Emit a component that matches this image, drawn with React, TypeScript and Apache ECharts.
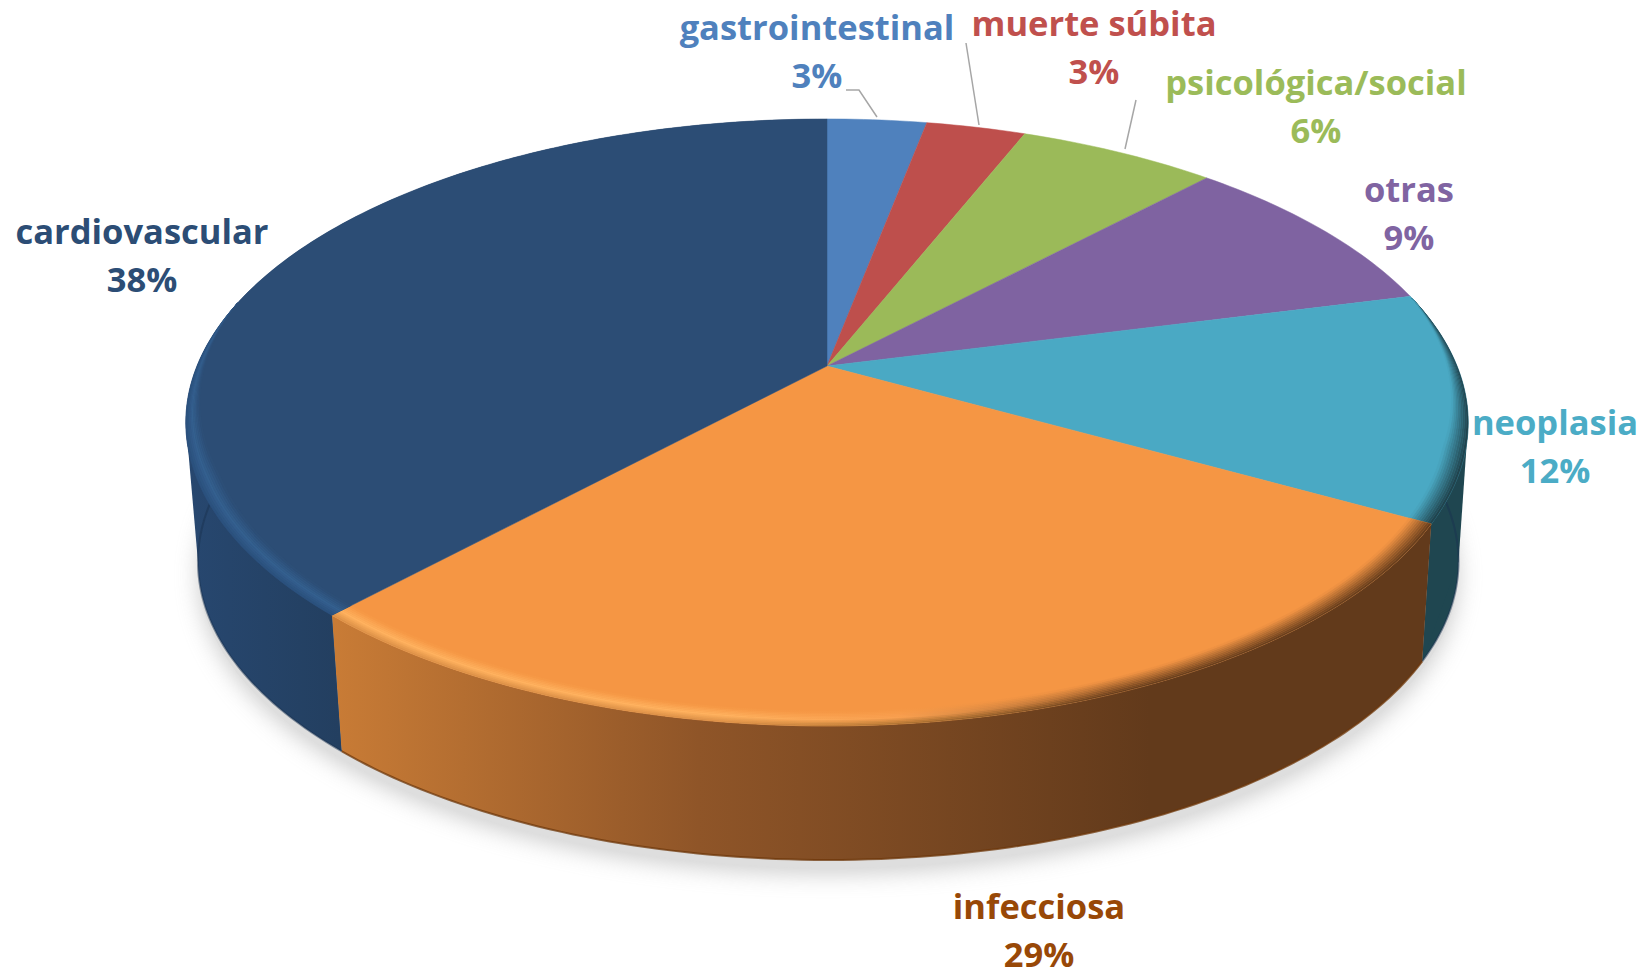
import React, { useEffect, useRef } from "react";
import * as echarts from "echarts";

// ---- data, clockwise from twelve o'clock
const categories = ["gastrointestinal", "muerte súbita", "psicológica/social", "otras", "neoplasia", "infecciosa", "cardiovascular"];
const shares = [3, 3, 6, 9, 12.15, 28.72, 38.13]; // unrounded shares

// ---- styles
const topColors = ["#4F81BD", "#BE4F4C", "#9BBA59", "#7F63A1", "#4AA9C4", "#F59644", "#2C4D75"];
const labelColors = ["#4F81BD", "#C0504D", "#9BBB59", "#8064A2", "#4BACC6", "#984807", "#2C4D75"];
const labelAnchors = [[817, 26], [1094, 22], [1316, 81], [1409, 188], [1555, 421], [1039, 905], [142, 230]];
const leaderLines = [
  [[846, 90], [859, 90], [877, 117]],
  [[966, 43], [979, 125]],
  [[1136, 100], [1125, 149]],
];

// ---- perspective of the disc
const CX = 827, CY = 366, A = 630, F = 293, Q = 0.186;
const VX = 900, VY = 8608, S = 0.983;
const RAD = Math.PI / 180;
// angles where the disc's outline is at its widest (cos = -Q)
const RIGHT_EXTREME = Math.acos(-Q) / RAD;
const LEFT_EXTREME = 360 - RIGHT_EXTREME;

function project(deg: number, r: number, low: boolean): number[] {
  const x = r * Math.sin(deg * RAD);
  const y = -r * Math.cos(deg * RAD);
  const w = 1 - Q * y;
  const px = CX + (A * x) / w;
  const py = CY + (F * y) / w;
  return low ? [VX + S * (px - VX), VY + S * (py - VY)] : [px, py];
}

function arc(from: number, to: number, r: number, low: boolean): number[][] {
  const pts: number[][] = [];
  const n = Math.max(2, Math.ceil(Math.abs(to - from)));
  for (let i = 0; i <= n; i++) pts.push(project(from + ((to - from) * i) / n, r, low));
  return pts;
}

function hex(c: string): number[] {
  return [1, 3, 5].map((i) => parseInt(c.slice(i, i + 2), 16));
}
function mix(a: string, b: string, t: number): string {
  const p = hex(a), q = hex(b);
  const v = p.map((u, i) => Math.round(u + (q[i] - u) * t));
  return "rgb(" + v.join(",") + ")";
}
function rimColor(side: string, hl: string, base: string, t: number): string {
  // t: 0 at the outer edge, 1 at the inner edge of the rounded rim
  return t < 0.45 ? mix(side, hl, t / 0.45) : mix(hl, base, (t - 0.45) / 0.55);
}

const total = shares.reduce((a, b) => a + b, 0);
function sliceRange(i: number): number[] {
  let before = 0;
  for (let k = 0; k < i; k++) before += shares[k];
  return [(before / total) * 360, ((before + shares[i]) / total) * 360];
}

function wallFill(i: number): any {
  if (i === 5)
    return new echarts.graphic.LinearGradient(330, 0, 1150, 0, [
      { offset: 0, color: "#C97C36" },
      { offset: 0.45, color: "#8F5528" },
      { offset: 1, color: "#623A1B" },
    ], true);
  if (i === 6)
    return new echarts.graphic.LinearGradient(190, 0, 340, 0, [
      { offset: 0, color: "#27476F" },
      { offset: 1, color: "#233F60" },
    ], true);
  return "#1F4650";
}

const RIM_W = 0.034, RIM_STEPS = 10, RIM_FROM = 76, RIM_TO = 283;

function rimFill(i: number, t: number): any {
  if (i === 4) return mix("#1F3F48", topColors[4], t);
  if (i === 6) return rimColor("#2A4F7C", "#34608F", topColors[6], t);
  const hl = rimColor("#D98E45", "#FFB25F", topColors[5], t);
  const mid = rimColor("#A9702F", "#F9A050", topColors[5], t);
  const dark = mix("#623A1B", topColors[5], t);
  return new echarts.graphic.LinearGradient(330, 0, 1250, 0, [
    { offset: 0, color: hl },
    { offset: 0.43, color: hl },
    { offset: 0.62, color: mid },
    { offset: 0.85, color: dark },
    { offset: 1, color: dark },
  ], true);
}

function profile(deg: number): number {
  return Math.min(1, (deg - RIM_FROM) / 30, (RIM_TO - deg) / 34);
}

function renderGround(params: any) {
  if (params.dataIndex !== 0) return { type: "group", children: [] };
  const ground = arc(0, 360, 1, true).map((p) => [p[0], p[1] + 8]);
  return {
    type: "polygon",
    shape: { points: ground },
    style: { fill: "#DEDEDE", shadowBlur: 22, shadowColor: "#CFCFCF", shadowOffsetY: 6 },
  };
}

function renderSide(params: any) {
  const i = params.dataIndex;
  if (i < 4) return { type: "group", children: [] }; // hidden behind the top face
  const [a0, a1] = sliceRange(i);
  const fill = wallFill(i);
  const children: any[] = [{
    type: "polygon",
    shape: { points: arc(a0, a1, 1, false).concat(arc(a1, a0, 1, true)) },
    style: { fill },
  }];
  // the wall's straight silhouette between the top and the bottom outline
  const filler = i === 6 ? [a0, LEFT_EXTREME] : i === 4 ? [a1, RIGHT_EXTREME] : null;
  if (filler) {
    children.push({
      type: "polygon",
      shape: { points: [project(filler[0], 1, false), project(filler[1], 1, false), project(filler[1], 1, true), project(filler[0], 1, true)] },
      style: { fill },
    });
  }
  children.push({
    type: "polyline",
    shape: { points: arc(a0, a1, 1, true) },
    style: { fill: "none", stroke: i === 5 ? "rgba(110,55,10,0.75)" : "rgba(25,50,80,0.5)", lineWidth: 2 },
  });
  return { type: "group", children };
}

function renderTop(params: any) {
  const i = params.dataIndex;
  const [a0, a1] = sliceRange(i);
  const apex = project(0, 0, false);
  const children: any[] = [{
    type: "polygon",
    shape: { points: [apex].concat(arc(a0, a1, 1, false)) },
    style: { fill: topColors[i], stroke: topColors[i], lineWidth: 0.5 },
  }];
  const b0 = Math.max(a0, RIM_FROM), b1 = Math.min(a1, RIM_TO);
  if (i >= 4 && b1 > b0) {
    for (let j = 0; j < RIM_STEPS; j++) {
      const t0 = j / RIM_STEPS, t1 = (j + 1) / RIM_STEPS;
      const n = Math.ceil(b1 - b0);
      const outer: number[][] = [], inner: number[][] = [];
      for (let k = 0; k <= n; k++) {
        const d = b0 + ((b1 - b0) * k) / n;
        const w = RIM_W * profile(d);
        outer.push(project(d, 1 - w * t0, false));
        inner.push(project(d, 1 - w * t1, false));
      }
      const fill = rimFill(i, (t0 + t1) / 2);
      children.push({
        type: "polygon",
        shape: { points: outer.concat(inner.reverse()) },
        style: { fill, stroke: fill, lineWidth: 0.4 },
      });
    }
  }
  return { type: "group", children };
}

function labelText(text: string, i: number, y: number) {
  return {
    type: "text",
    x: labelAnchors[i][0],
    y,
    style: {
      text,
      fill: labelColors[i],
      font: "700 34.5px 'Open Sans'",
      align: "center",
      verticalAlign: "middle",
      lineHeight: 36,
    },
  };
}

function renderLabel(params: any, api: any) {
  const i = params.dataIndex;
  return {
    type: "group",
    children: [
      labelText(categories[i], i, labelAnchors[i][1]),
      labelText(Math.round(api.value(0)) + "%", i, labelAnchors[i][1] + 48.5),
    ],
  };
}

export default function App() {
  const ref = useRef<HTMLDivElement>(null);
  useEffect(() => {
    const chart = echarts.init(ref.current!, undefined, { renderer: "svg" });
    const data = shares.map((v) => [v]);
    const base = { type: "custom", coordinateSystem: "none", data, silent: true, clip: false };
    chart.setOption({
      animation: false,
      backgroundColor: "#FFFFFF",
      graphic: leaderLines.map((points) => ({
        type: "polyline",
        z: 10,
        shape: { points },
        style: { fill: "none", stroke: "#A6A6A6", lineWidth: 1.5 },
      })),
      series: [
        { ...base, z: 1, renderItem: renderGround },
        { ...base, z: 2, renderItem: renderSide },
        { ...base, z: 3, renderItem: renderTop },
        { ...base, z: 4, renderItem: renderLabel },
      ],
    });
    return () => chart.dispose();
  }, []);
  return <div ref={ref} style={{ position: "absolute", left: 0, top: 0, width: 1646, height: 973 }} />;
}
